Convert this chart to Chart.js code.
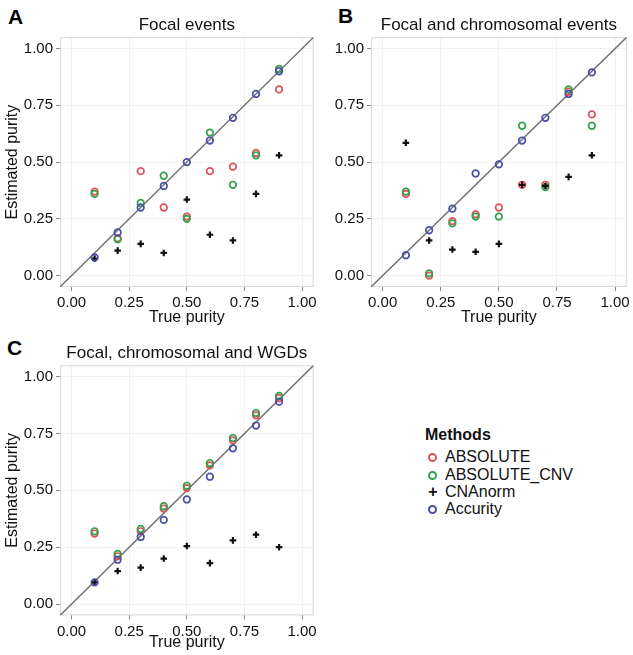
<!DOCTYPE html>
<html>
<head>
<meta charset="utf-8">
<script src="https://cdn.jsdelivr.net/npm/chart.js@4.4.1/dist/chart.umd.min.js"></script>
<style>
  body { margin: 0; background: #fff; width: 633px; height: 655px; position: relative; overflow: hidden;
         font-family: 'Liberation Sans', Arial, sans-serif; color: #111; }
  canvas { position: absolute; }
  .tag { position: absolute; font-weight: bold; font-size: 21px; line-height: 1; color: #000; }
  .legend-title { position: absolute; left: 425px; top: 426px; font-weight: bold; font-size: 16px; line-height: 18px; }
  .legend-row { position: absolute; left: 428px; font-size: 16px; line-height: 18px; white-space: nowrap; }
  .legend-row .sym { position: absolute; left: 0; top: 5px; width: 9px; height: 9px; box-sizing: border-box;
                     border: 2px solid; border-radius: 50%; }
  .legend-row .cross { position: absolute; left: 0; top: 0; font-weight: bold; font-size: 16px; width: 10px; text-align: center; }
  .legend-row span.txt { position: absolute; left: 17px; top: 0; }
</style>
</head>
<body>
<div class="tag" style="left:8px;top:6px">A</div>
<div class="tag" style="left:338px;top:5px">B</div>
<div class="tag" style="left:7px;top:337px">C</div>

<canvas id="chartA" width="320" height="330" style="left:0;top:0"></canvas>
<canvas id="chartB" width="320" height="330" style="left:313px;top:0"></canvas>
<canvas id="chartC" width="320" height="335" style="left:0;top:320px"></canvas>

<div class="legend-title">Methods</div>
<div class="legend-row" style="top:448px"><div class="sym" style="border-color:#e0505a"></div><span class="txt">ABSOLUTE</span></div>
<div class="legend-row" style="top:466px"><div class="sym" style="border-color:#33a04a"></div><span class="txt">ABSOLUTE_CNV</span></div>
<div class="legend-row" style="top:483px"><div class="cross">+</div><span class="txt">CNAnorm</span></div>
<div class="legend-row" style="top:500px"><div class="sym" style="border-color:#4a4ea6"></div><span class="txt">Accurity</span></div>

<script>
const truePurity = [0.1, 0.2, 0.3, 0.4, 0.5, 0.6, 0.7, 0.8, 0.9];
const tickValues = [0, 0.25, 0.5, 0.75, 1];
const diagonal = [-0.05, 1.05];

// A: focal events
const focalAbsolute = [0.37, 0.165, 0.46, 0.30, 0.26, 0.46, 0.48, 0.54, 0.82];
const focalAbsoluteCnv = [0.36, 0.16, 0.32, 0.44, 0.25, 0.63, 0.40, 0.53, 0.91];
const focalCnanorm = [0.075, 0.11, 0.14, 0.10, 0.335, 0.18, 0.155, 0.36, 0.53];
const focalAccurity = [0.08, 0.19, 0.30, 0.395, 0.50, 0.595, 0.695, 0.80, 0.90];

// B: focal and chromosomal events
const chromAbsolute = [0.36, 0.00, 0.24, 0.27, 0.30, 0.40, 0.40, 0.81, 0.71];
const chromAbsoluteCnv = [0.37, 0.01, 0.23, 0.26, 0.26, 0.66, 0.39, 0.82, 0.66];
const chromCnanorm = [0.585, 0.155, 0.115, 0.105, 0.14, 0.40, 0.395, 0.435, 0.53];
const chromAccurity = [0.09, 0.20, 0.295, 0.45, 0.49, 0.595, 0.695, 0.80, 0.895];

// C: focal, chromosomal and WGDs
const wgdAbsolute = [0.31, 0.21, 0.32, 0.42, 0.51, 0.61, 0.72, 0.83, 0.905];
const wgdAbsoluteCnv = [0.32, 0.22, 0.33, 0.43, 0.52, 0.62, 0.73, 0.84, 0.915];
const wgdCnanorm = [0.095, 0.145, 0.16, 0.20, 0.255, 0.18, 0.28, 0.305, 0.25];
const wgdAccurity = [0.095, 0.195, 0.295, 0.37, 0.46, 0.56, 0.685, 0.785, 0.89];

const COLORS = { absolute: '#e0505a', cnv: '#33a04a', cnanorm: '#111111', accurity: '#4a4ea6', line: '#6e6e6e' };
const FONT = "'Liberation Sans', Arial, sans-serif";

const toPoints = (ys) => truePurity.map((x, i) => ({ x, y: ys[i] }));

const panelBorder = {
  id: 'panelBorder',
  beforeDatasetsDraw(chart) {
    const { ctx, chartArea: a } = chart;
    ctx.save();
    ctx.strokeStyle = '#d8d8d8';
    ctx.lineWidth = 1;
    ctx.strokeRect(a.left + 0.5, a.top + 0.5, a.right - a.left - 1, a.bottom - a.top - 1);
    ctx.restore();
  },
};

const circleSet = (label, ys, color, order) => ({
  label, data: toPoints(ys), order,
  pointStyle: 'circle', pointRadius: 3.3, pointBorderWidth: 1.7,
  borderColor: color, backgroundColor: 'rgba(0,0,0,0)',
});

const makePanel = (id, title, series, opt) => {
  const axis = (isX) => ({
    type: 'linear', min: diagonal[0], max: diagonal[1],
    afterBuildTicks: (s) => { s.ticks = tickValues.map((v) => ({ value: v })); },
    afterFit: (s) => { if (isX) s.height = opt.xHeight; else s.width = opt.yWidth; },
    border: { display: false },
    grid: { color: '#f1f1f1', lineWidth: 1, drawTicks: true, tickLength: 4, tickColor: '#8a8a8a', tickWidth: 1 },
    ticks: {
      padding: 3, color: '#111', font: { family: FONT, size: 15 },
      maxRotation: 0, autoSkip: false,
      callback: (v) => Number(v).toFixed(2),
    },
    title: isX
      ? { display: true, text: 'True purity', color: '#111', font: { family: FONT, size: 16 }, padding: { top: 0, bottom: 3 } }
      : { display: opt.yTitle, text: 'Estimated purity', color: '#111', font: { family: FONT, size: 16 }, padding: { top: 3.4, bottom: 0 } },
  });

  return new Chart(document.getElementById(id), {
    type: 'scatter',
    data: {
      datasets: [
        circleSet('ABSOLUTE', series[0], COLORS.absolute, 4),
        circleSet('ABSOLUTE_CNV', series[1], COLORS.cnv, 3),
        {
          label: 'CNAnorm', data: toPoints(series[2]), order: 2,
          pointStyle: 'cross', pointRadius: 3.3, pointBorderWidth: 2.2,
          borderColor: COLORS.cnanorm, backgroundColor: COLORS.cnanorm,
        },
        circleSet('Accurity', series[3], COLORS.accurity, 1),
        {
          type: 'line', label: 'y = x', order: 10,
          data: diagonal.map((v) => ({ x: v, y: v })),
          borderColor: COLORS.line, borderWidth: 1.4, pointRadius: 0, showLine: true, fill: false,
        },
      ],
    },
    options: {
      responsive: false,
      animation: false,
      devicePixelRatio: 1,
      layout: { padding: { left: 0, right: opt.padRight, top: 0, bottom: 0 } },
      plugins: {
        legend: { display: false },
        tooltip: { enabled: false },
        title: {
          display: true, text: title, fullSize: false, color: '#111',
          font: { family: FONT, size: 17, weight: 'normal' },
          padding: { top: opt.titleTop, bottom: opt.titleBottom },
        },
      },
      scales: { x: axis(true), y: axis(false) },
    },
    plugins: [panelBorder],
  });
};

makePanel('chartA', 'Focal events',
  [focalAbsolute, focalAbsoluteCnv, focalCnanorm, focalAccurity],
  { yTitle: true, yWidth: 60, xHeight: 43, padRight: 2, titleTop: 14.8, titleBottom: 2 });

makePanel('chartB', 'Focal and chromosomal events',
  [chromAbsolute, chromAbsoluteCnv, chromCnanorm, chromAccurity],
  { yTitle: false, yWidth: 58, xHeight: 43, padRight: 5, titleTop: 14.8, titleBottom: 2 });

makePanel('chartC', 'Focal, chromosomal and WGDs',
  [wgdAbsolute, wgdAbsoluteCnv, wgdCnanorm, wgdAccurity],
  { yTitle: true, yWidth: 60, xHeight: 39.6, padRight: 2, titleTop: 23.1, titleBottom: 1.8 });
</script>
</body>
</html>
